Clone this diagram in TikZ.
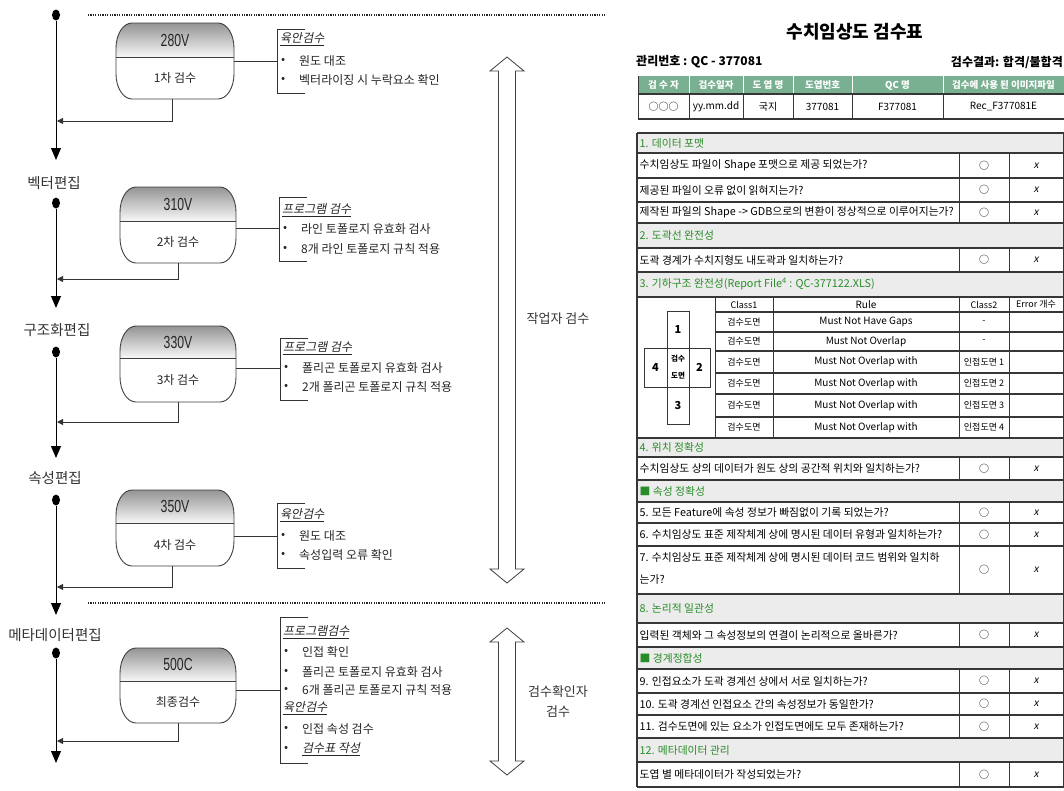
\documentclass[tikz,border=0pt]{standalone}
\usepackage{fontspec}
\setmainfont{Noto Sans CJK KR}
\newfontfamily\slantkr[FakeSlant=0.2]{Noto Sans CJK KR}
\newfontfamily\narrowf[FakeStretch=0.7]{Liberation Sans}
\usetikzlibrary{arrows.meta,shapes.geometric}
\definecolor{hdrgreen}{RGB}{122,176,146}
\definecolor{secgreen}{RGB}{40,140,40}
\definecolor{secgray}{RGB}{236,236,236}
\definecolor{linegray}{RGB}{55,55,55}
\tikzset{
  flowline/.style={line width=1pt, draw=black},
  downarrow/.style={flowline, -{Triangle[length=12pt,width=10pt]}},
  retarrow/.style={line width=0.8pt, draw=black!80, -{Triangle[length=6pt,width=6pt]}},
  flowdot/.style={ellipse, fill=black, minimum width=8pt, minimum height=11pt, inner sep=0pt},
  stagelbl/.style={font=\fontsize{14.5}{20}\selectfont, text=black!80, align=center},
  boxtop/.style={font=\narrowf\fontsize{17.5}{18}\selectfont, text=black!85, inner sep=0pt},
  boxbot/.style={font=\fontsize{12}{12}\selectfont, text=black!85, inner sep=0pt},
  brtext/.style={font=\fontsize{12}{12}\selectfont, anchor=west, inner sep=0pt, text=black!85},
  brtitle/.style={brtext, font=\slantkr\fontsize{12}{12}\selectfont},
  bracketline/.style={line width=0.8pt, draw=black!80},
  dotsep/.style={line width=1.6pt, dash pattern=on 1.2pt off 1.2pt, draw=black!85},
  hollowarrow/.style={draw=black!75, line width=0.8pt, fill=white},
  tq/.style={anchor=west, font=\fontsize{10.8}{12}\selectfont, inner sep=0pt},
  tsec/.style={anchor=west, font=\fontsize{10.8}{12}\selectfont, text=secgreen, inner sep=0pt},
  tcell/.style={font=\fontsize{10}{11}\selectfont, inner sep=0pt},
  tsmall/.style={font=\fontsize{9}{10}\selectfont, inner sep=0pt},
  trule/.style={font=\fontsize{10}{10}\selectfont, inner sep=0pt},
  thdr/.style={font=\bfseries\fontsize{9.5}{11}\selectfont, text=white, inner sep=0pt},
  hline/.style={line width=1.2pt, draw=linegray},
  vline/.style={line width=0.8pt, draw=linegray},
  crossbox/.style={line width=0.8pt, draw=linegray},
  crosslbl/.style={font=\bfseries\fontsize{11}{12}\selectfont, inner sep=0pt},
}
% #1 name, #2 L, #3 T, #4 R, #5 divider, #6 B, #7 top text, #8 bottom text
\newcommand\stagebox[8]{%
  \pgfmathsetmacro\sbxa{#2+16}\pgfmathsetmacro\sbxb{#4-16}%
  \pgfmathsetmacro\sbya{#3+25}\pgfmathsetmacro\sbyb{#6-25}%
  \pgfmathsetmacro\sbcxa{#2+7.17}\pgfmathsetmacro\sbcxb{#4-7.17}%
  \pgfmathsetmacro\sbcya{#3+11.2}\pgfmathsetmacro\sbcyb{#6-11.2}%
  \edef\sbpath{(\sbxa,#3) -- (\sbxb,#3) .. controls (\sbcxb,#3) and (#4,\sbcya) .. (#4,\sbya)
    -- (#4,\sbyb) .. controls (#4,\sbcyb) and (\sbcxb,#6) .. (\sbxb,#6)
    -- (\sbxa,#6) .. controls (\sbcxa,#6) and (#2,\sbcyb) .. (#2,\sbyb)
    -- (#2,\sbya) .. controls (#2,\sbcya) and (\sbcxa,#3) .. (\sbxa,#3) -- cycle}%
  \begin{scope}
    \clip \sbpath;
    \shade[top color=black!42, bottom color=black!3] (#2,#3) rectangle (#4,#5);
  \end{scope}
  \draw[line width=0.9pt, draw=black!75] \sbpath;
  \draw[line width=0.9pt, draw=black!75] (#2,#5) -- (#4,#5);
  \node[minimum width={#4-#2}, minimum height={#6-#3}, inner sep=0pt] (#1) at ({(#2+#4)/2},{(#3+#6)/2}) {};
  \node[boxtop] (#1top) at ({(#2+#4)/2},{(#3+#5)/2}) {#7};
  \node[boxbot] (#1bot) at ({(#2+#4)/2},{(#5+#6)/2}) {#8};
}
% #1 name, #2 x, #3 top, #4 bottom
\newcommand\bracketat[4]{%
  \coordinate (#1) at (#2,{(#3+#4)/2});
  \draw[bracketline] ({#2+28},#3) -- (#2,#3) -- (#2,#4) -- ({#2+28},#4);
}
% #1 name, #2 bracket x, #3 y, #4 text
\newcommand\bitem[4]{%
  \node[brtext] (#1b) at ({#2+4},#3) {•};
  \node[brtext] (#1) at ({#2+22},#3) {#4};
}
% question row: #1 name, #2 y1, #3 y2, #4 text
\newcommand\qrow[4]{%
  \draw[vline] (959,#2) -- (959,#3) (1009,#2) -- (1009,#3);
  \node[tq] (#1) at (639.5,{(#2+#3)/2}) {#4};
  \node[tcell] (#1o) at (984,{(#2+#3)/2}) {○};
  \node[tcell] (#1x) at (1036,{(#2+#3)/2}) {\slantkr x};
}
% section row: #1 name, #2 y1, #3 y2, #4 text
\newcommand\secrow[4]{%
  \fill[secgray] (637,#2) rectangle (1064,#3);
  \node[tsec] (#1) at (639.5,{(#2+#3)/2}) {#4};
}
% sub-table row: #1 name, #2 y, #3 rule, #4 class2
\newcommand\srow[4]{%
  \node[tsmall] (#1a) at (744,#2) {검수도면};
  \node[trule] (#1b) at (866,#2) {#3};
  \node[tsmall] (#1c) at (984,#2) {#4};
}
\begin{document}
\begin{tikzpicture}[x=1pt,y=-1pt]
\useasboundingbox (0,0) rectangle (1064,790);
\fill[white] (0,0) rectangle (1064,790);

% ---------- dotted separators ----------
\coordinate (dla) at (88,15);  \coordinate (dlb) at (605,15);
\coordinate (dlc) at (88,603); \coordinate (dld) at (605,603);
\draw[dotsep] (dla) -- (dlb);
\draw[dotsep] (dlc) -- (dld);

% ---------- main flow ----------
\node[flowdot] (d1) at (56,15) {};
\coordinate (a1) at (56,160);
\draw[downarrow] (d1) -- (a1);
\node[stagelbl] (l1) at (54,183) {벡터편집};
\node[flowdot] (d2) at (56,203) {};
\coordinate (a2) at (56,308);
\draw[downarrow] (d2) -- (a2);
\node[stagelbl] (l2) at (57,330) {구조화편집};
\node[flowdot] (d3) at (56,352) {};
\coordinate (a3) at (56,458);
\draw[downarrow] (d3) -- (a3);
\node[stagelbl] (l3) at (55,478) {속성편집};
\node[flowdot] (d4) at (56,500) {};
\coordinate (a4) at (56,615);
\draw[downarrow] (d4) -- (a4);
\node[stagelbl] (l4) at (55,635) {메타데이터편집};
\node[flowdot] (d5) at (56,653) {};
\coordinate (a5) at (56,763);
\draw[downarrow] (d5) -- (a5);

% ---------- stage boxes ----------
\stagebox{box1}{116}{23}{234}{57}{99}{280V}{1차 검수}
\stagebox{box2}{120}{187}{236}{221}{263}{310V}{2차 검수}
\stagebox{box3}{120}{326}{236}{358}{402}{330V}{3차 검수}
\stagebox{box4}{116}{490}{234}{523}{566}{350V}{4차 검수}
\stagebox{box5}{120}{648}{236}{681}{723}{500C}{최종검수}

% ---------- return connectors ----------
\coordinate (rs1) at (172,99);  \coordinate (re1) at (57,121);
\coordinate (rs2) at (178,263); \coordinate (re2) at (57,279);
\coordinate (rs3) at (178,402); \coordinate (re3) at (57,422);
\coordinate (rs4) at (172,566); \coordinate (re4) at (57,587);
\coordinate (rs5) at (178,723); \coordinate (re5) at (57,741);
\foreach \i in {1,...,5} \draw[retarrow] (rs\i) |- (re\i);

% ---------- brackets ----------
\bracketat{br1}{277}{29}{93}
\coordinate (cb1) at (277,61);
\draw[bracketline] (box1.east |- cb1) -- (cb1);
\node[brtitle] (bt1) at (280,39) {\underline{육안검수}};
\bitem{b1i1}{277}{61}{원도 대조}
\bitem{b1i2}{277}{80}{벡터라이징 시 누락요소 확인}

\bracketat{br2}{279}{197}{261}
\coordinate (cb2) at (279,228);
\draw[bracketline] (box2.east |- cb2) -- (cb2);
\node[brtitle] (bt2) at (282,210) {\underline{프로그램 검수}};
\bitem{b2i1}{279}{229}{라인 토폴로지 유효화 검사}
\bitem{b2i2}{279}{249}{8개 라인 토폴로지 규칙 적용}

\bracketat{br3}{280}{338}{400}
\coordinate (cb3) at (280,368);
\draw[bracketline] (box3.east |- cb3) -- (cb3);
\node[brtitle] (bt3) at (283,348) {\underline{프로그램 검수}};
\bitem{b3i1}{280}{368}{폴리곤 토폴로지 유효화 검사}
\bitem{b3i2}{280}{387}{2개 폴리곤 토폴로지 규칙 적용}

\bracketat{br4}{277}{503}{568}
\coordinate (cb4) at (277,536);
\draw[bracketline] (box4.east |- cb4) -- (cb4);
\node[brtitle] (bt4) at (280,515) {\underline{육안검수}};
\bitem{b4i1}{277}{536}{원도 대조}
\bitem{b4i2}{277}{555}{속성입력 오류 확인}

\bracketat{br5}{280}{617}{763}
\coordinate (cb5) at (280,690);
\draw[bracketline] (box5.east |- cb5) -- (cb5);
\node[brtitle] (bt5) at (283,632) {\underline{프로그램검수}};
\bitem{b5i1}{280}{652}{인접 확인}
\bitem{b5i2}{280}{672}{폴리곤 토폴로지 유효화 검사}
\bitem{b5i3}{280}{690}{6개 폴리곤 토폴로지 규칙 적용}
\node[brtitle] (bt6) at (283,708) {\underline{육안검수}};
\bitem{b5i4}{280}{729}{인접 속성 검수}
\node[brtext] (b5i5b) at (284,749) {•};
\node[brtitle] (b5i5) at (302,749) {\underline{검수표 작성}};

% ---------- double arrows ----------
\draw[hollowarrow] (507,57) -- (524,71) -- (515.5,71) -- (515.5,569) -- (524,569) -- (507,583)
  -- (490,569) -- (498.5,569) -- (498.5,71) -- (490,71) -- cycle;
\node[stagelbl, font=\fontsize{13}{20}\selectfont] (w1) at (558,319) {작업자 검수};
\draw[hollowarrow] (507,628) -- (524,642) -- (515.5,642) -- (515.5,761) -- (524,761) -- (507,775)
  -- (490,761) -- (498.5,761) -- (498.5,642) -- (490,642) -- cycle;
\node[stagelbl, font=\fontsize{13}{20}\selectfont] (w2) at (558,702) {검수확인자\\검수};

% ---------- right: title and header table ----------
\node[font=\bfseries\fontsize{18}{20}\selectfont, inner sep=0pt] (title) at (855,32) {수치임상도 검수표};
\node[font=\bfseries\fontsize{12}{12}\selectfont, anchor=west, inner sep=0pt] (mgmt) at (636,62) {관리번호 : QC - 377081};
\node[font=\bfseries\fontsize{12}{12}\selectfont, anchor=east, inner sep=0pt] (result) at (1063,62) {검수결과: 합격/불합격};

\fill[hdrgreen] (638,76) rectangle (1064,94);
\foreach \xx in {689,743,793,852,943} {
  \draw[line width=0.8pt, draw=white] (\xx,76) -- (\xx,94);
  \draw[vline] (\xx,94) -- (\xx,119);
}
\draw[hline] (638,94) -- (1064,94);
\draw[hline] (638,119) -- (1064,119);
\draw[vline] (638,76) -- (638,119);
\node[thdr] (h1) at (663.5,85) {검 수 자};
\node[thdr] (h2) at (716,85) {검수일자};
\node[thdr] (h3) at (768,85) {도 엽 명};
\node[thdr] (h4) at (822.5,85) {도엽번호};
\node[thdr] (h5) at (897.5,85) {QC 명};
\node[thdr] (h6) at (1003.5,85) {검수에 사용 된 이미지파일};
\node[tcell] (v1) at (663.5,106.5) {○○○};
\node[tcell] (v2) at (716,106.5) {yy.mm.dd};
\node[tcell] (v3) at (768,106.5) {국지};
\node[tcell] (v4) at (822.5,106.5) {377081};
\node[tcell] (v5) at (897.5,106.5) {F377081};
\node[tcell] (v6) at (1003.5,106.5) {Rec\_F377081E};

% ---------- right: main table ----------
\secrow{s1}{133}{153}{1. 데이터 포맷}
\secrow{s2}{223}{248}{2. 도곽선 완전성}
\secrow{s3}{272}{297}{3. 기하구조 완전성(Report File\textsuperscript{4} : QC-377122.XLS)}
\secrow{s4}{438}{457}{4. 위치 정확성}
\secrow{s5}{480}{502}{■ 속성 정확성}
\secrow{s8}{594}{623}{8. 논리적 일관성}
\secrow{s9}{647}{669}{■ 경계정합성}
\secrow{s12}{738}{762}{12. 메타데이터 관리}

\foreach \yy in {133,153,178,202,223,248,272,297,438,457,480,502,523,546,594,623,647,669,693,715,738,762,787}
  \draw[hline] (637,\yy) -- (1064,\yy);
\foreach \yy in {312,332,351,373,394,417}
  \draw[hline] (715,\yy) -- (1064,\yy);
\draw[line width=1.5pt, draw=linegray] (637,133) -- (637,787);
\draw[line width=1.2pt, draw=linegray] (1063.4,133) -- (1063.4,787);

\qrow{q1}{153}{178}{수치임상도 파일이 Shape 포맷으로 제공 되었는가?}
\qrow{q2}{178}{202}{제공된 파일이 오류 없이 읽혀지는가?}
\qrow{q3}{202}{223}{제작된 파일의 Shape -> GDB으로의 변환이 정상적으로 이루어지는가?}
\qrow{q4}{248}{272}{도곽 경계가 수치지형도 내도곽과 일치하는가?}
\qrow{q5}{457}{480}{수치임상도 상의 데이터가 원도 상의 공간적 위치와 일치하는가?}
\qrow{q6}{502}{523}{5. 모든 Feature에 속성 정보가 빠짐없이 기록 되었는가?}
\qrow{q7}{523}{546}{6. 수치임상도 표준 제작체계 상에 명시된 데이터 유형과 일치하는가?}
\draw[vline] (959,546) -- (959,594) (1009,546) -- (1009,594);
\node[tq] (q8) at (639.5,557) {7. 수치임상도 표준 제작체계 상에 명시된 데이터 코드 범위와 일치하};
\node[tq] (q8b) at (639.5,579) {는가?};
\node[tcell] (q8o) at (984,570) {○};
\node[tcell] (q8x) at (1036,570) {\slantkr x};
\qrow{q9}{623}{647}{입력된 객체와 그 속성정보의 연결이 논리적으로 올바른가?}
\qrow{q10}{669}{693}{9. 인접요소가 도곽 경계선 상에서 서로 일치하는가?}
\qrow{q11}{693}{715}{10. 도곽 경계선 인접요소 간의 속성정보가 동일한가?}
\qrow{q12}{715}{738}{11. 검수도면에 있는 요소가 인접도면에도 모두 존재하는가?}
\qrow{q13}{762}{787}{도엽 별 메타데이터가 작성되었는가?}

% ---------- sub-table (section 3) ----------
\foreach \xx in {715,773,959,1009} \draw[vline] (\xx,297) -- (\xx,438);
\node[tsmall] (sh1) at (744,304.5) {Class1};
\node[trule] (sh2) at (866,304.5) {Rule};
\node[tsmall] (sh3) at (984,304.5) {Class2};
\node[tsmall] (sh4) at (1036,304.5) {Error 개수};
\srow{r1}{322}{Must Not Have Gaps}{-}
\srow{r2}{341.5}{Must Not Overlap}{-}
\srow{r3}{362}{Must Not Overlap with}{인접도면 1}
\srow{r4}{383.5}{Must Not Overlap with}{인접도면 2}
\srow{r5}{405.5}{Must Not Overlap with}{인접도면 3}
\srow{r6}{427.5}{Must Not Overlap with}{인접도면 4}

\draw[crossbox] (667,311) rectangle (689,424);
\draw[crossbox] (644,348) rectangle (710,387);
\node[crosslbl] (c1) at (678,330) {1};
\node[crosslbl] (c4) at (655.5,367.5) {4};
\node[crosslbl] (c2) at (699.5,367.5) {2};
\node[crosslbl] (c3) at (678,405.5) {3};
\node[font=\bfseries\fontsize{7.5}{8}\selectfont, inner sep=0pt] (cc1) at (678,359) {검수};
\node[font=\bfseries\fontsize{7.5}{8}\selectfont, inner sep=0pt] (cc2) at (678,376) {도면};
\end{tikzpicture}
\end{document}
